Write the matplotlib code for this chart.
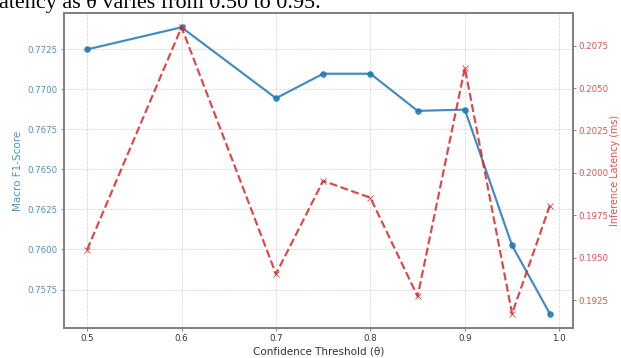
import matplotlib
matplotlib.use("Agg")
import matplotlib.pyplot as plt

thresholds = [0.5, 0.6, 0.7, 0.75, 0.8, 0.85, 0.9, 0.95, 0.99]
f1_scores = [0.7725, 0.77388, 0.76945, 0.77098, 0.77098, 0.76866, 0.76874, 0.76025, 0.75599]
latency = [0.19547, 0.20858, 0.19404, 0.19953, 0.19853, 0.19272, 0.20619, 0.19170, 0.19807]
x_ticks = [0.5, 0.6, 0.7, 0.8, 0.9, 1.0]

blue = '#1f77b4'
red = '#d62728'
DPI = 62.1

fig = plt.figure(figsize=(621 / DPI, 358 / DPI), dpi=DPI)
ax1 = fig.add_axes([0.103, 0.0838, 0.8197, 0.8799])

ax1.plot(thresholds, f1_scores, color=blue, marker='o', markersize=6.5,
         linewidth=2.5, alpha=0.85)
ax1.set_xticks(x_ticks)
ax1.set_xlabel('Confidence Threshold (θ)', fontsize=12, color='#333333', labelpad=4)
ax1.set_ylabel('Macro F1-Score', fontsize=12, color=blue, alpha=0.8, labelpad=6)
ax1.tick_params(axis='y', labelcolor=blue, labelsize=10, color='#555555')
ax1.tick_params(axis='x', labelsize=10, labelcolor='#333333', color='#555555')
for lab in ax1.get_yticklabels():
    lab.set_alpha(0.8)
ax1.grid(True, linestyle='--', linewidth=0.9, color='#cccccc', alpha=0.8)

ax2 = ax1.twinx()
ax2.plot(thresholds, latency, color=red, marker='x', markersize=7,
         linestyle='--', linewidth=2.5, alpha=0.85)
ax2.set_ylabel('Inference Latency (ms)', fontsize=11.2, color=red, alpha=0.8)
ax2.yaxis.label.set_verticalalignment('center')
ax2.yaxis.label.set_horizontalalignment('center')
ax2.yaxis.label.set_rotation_mode('anchor')
ax2.yaxis.set_label_coords((615.0 - 64) / 509, 0.5)
ax2.tick_params(axis='y', labelcolor=red, labelsize=10, color='#555555', pad=3)
for lab in ax2.get_yticklabels():
    lab.set_alpha(0.8)

for ax in (ax1, ax2):
    for sp in ax.spines.values():
        sp.set_color('#808080')
        sp.set_linewidth(2.0)

fig.text(-0.0113, 1 - 8.0 / 358, 'latency as θ varies from 0.50 to 0.95.',
         fontsize=16 * 100 / DPI, family=['Liberation Serif', 'DejaVu Serif'],
         ha='left', va='baseline', color='black')

fig.savefig('out.png', dpi=DPI)
